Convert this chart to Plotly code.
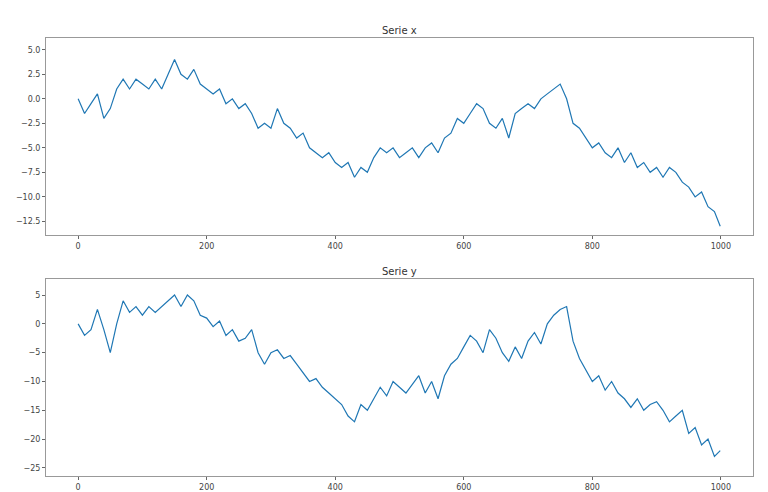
import plotly.graph_objects as go
from plotly.subplots import make_subplots

t = [0, 10, 20, 30, 40, 50, 60, 70, 80, 90, 100, 110, 120, 130, 140, 150, 160, 170, 180, 190,
     200, 210, 220, 230, 240, 250, 260, 270, 280, 290, 300, 310, 320, 330, 340, 350, 360, 370, 380, 390,
     400, 410, 420, 430, 440, 450, 460, 470, 480, 490, 500, 510, 520, 530, 540, 550, 560, 570, 580, 590,
     600, 610, 620, 630, 640, 650, 660, 670, 680, 690, 700, 710, 720, 730, 740, 750, 760, 770, 780, 790,
     800, 810, 820, 830, 840, 850, 860, 870, 880, 890, 900, 910, 920, 930, 940, 950, 960, 970, 980, 990, 999]

serie_x = [0, -1.5, -0.5, 0.5, -2, -1, 1, 2, 1, 2, 1.5, 1, 2, 1, 2.5, 4, 2.5, 2, 3, 1.5,
           1, 0.5, 1, -0.5, 0, -1, -0.5, -1.5, -3, -2.5, -3, -1, -2.5, -3, -4, -3.5, -5, -5.5, -6, -5.5,
           -6.5, -7, -6.5, -8, -7, -7.5, -6, -5, -5.5, -5, -6, -5.5, -5, -6, -5, -4.5, -5.5, -4, -3.5, -2,
           -2.5, -1.5, -0.5, -1, -2.5, -3, -2, -4, -1.5, -1, -0.5, -1, 0, 0.5, 1, 1.5, 0, -2.5, -3, -4,
           -5, -4.5, -5.5, -6, -5, -6.5, -5.5, -7, -6.5, -7.5, -7, -8, -7, -7.5, -8.5, -9, -10, -9.5, -11, -11.5, -13]

serie_y = [0, -2, -1, 2.5, -1, -5, 0, 4, 2, 3, 1.5, 3, 2, 3, 4, 5, 3, 5, 4, 1.5,
           1, -0.5, 0.5, -2, -1, -3, -2.5, -1, -5, -7, -5, -4.5, -6, -5.5, -7, -8.5, -10, -9.5, -11, -12,
           -13, -14, -16, -17, -14, -15, -13, -11, -12.5, -10, -11, -12, -10.5, -9, -12, -10, -13, -9, -7, -6,
           -4, -2, -3, -5, -1, -2.5, -5, -6.5, -4, -6, -3, -1.5, -3.5, 0, 1.5, 2.5, 3, -3, -6, -8,
           -10, -9, -11.5, -10, -12, -13, -14.5, -13, -15, -14, -13.5, -15, -17, -16, -15, -19, -18, -21, -20, -23, -22]

fig = make_subplots(rows=2, cols=1, subplot_titles=("Serie x", "Serie y"), vertical_spacing=0.1)
fig.add_trace(go.Scatter(x=t, y=serie_x, mode="lines", line=dict(color="#1f77b4", width=1.2)), row=1, col=1)
fig.add_trace(go.Scatter(x=t, y=serie_y, mode="lines", line=dict(color="#1f77b4", width=1.2)), row=2, col=1)

ax = dict(showgrid=False, zeroline=False, showline=True, mirror=True, linecolor="#999", automargin=False,
          ticks="outside", tickcolor="#666", ticklen=3, tickfont=dict(size=8, color="#444"))
fig.update_xaxes(range=[-50, 1050], tickvals=[0, 200, 400, 600, 800, 1000], **ax)
fig.update_yaxes(**ax)
fig.update_yaxes(range=[-13.9, 6.2], tickvals=[5, 2.5, 0, -2.5, -5, -7.5, -10, -12.5],
                 ticktext=["5.0", "2.5", "0.0", "−2.5", "−5.0", "−7.5", "−10.0", "−12.5"], row=1, col=1)
fig.update_yaxes(range=[-26.4, 7.8], tickvals=[5, 0, -5, -10, -15, -20, -25],
                 ticktext=["5", "0", "−5", "−10", "−15", "−20", "−25"], row=2, col=1)
fig.update_annotations(font=dict(size=10, color="#333"))
fig.update_layout(width=768, height=492, showlegend=False, plot_bgcolor="white", paper_bgcolor="white",
                  margin=dict(l=38, r=23, t=30, b=24), font=dict(family="DejaVu Sans"))
fig.write_html("out.html")
